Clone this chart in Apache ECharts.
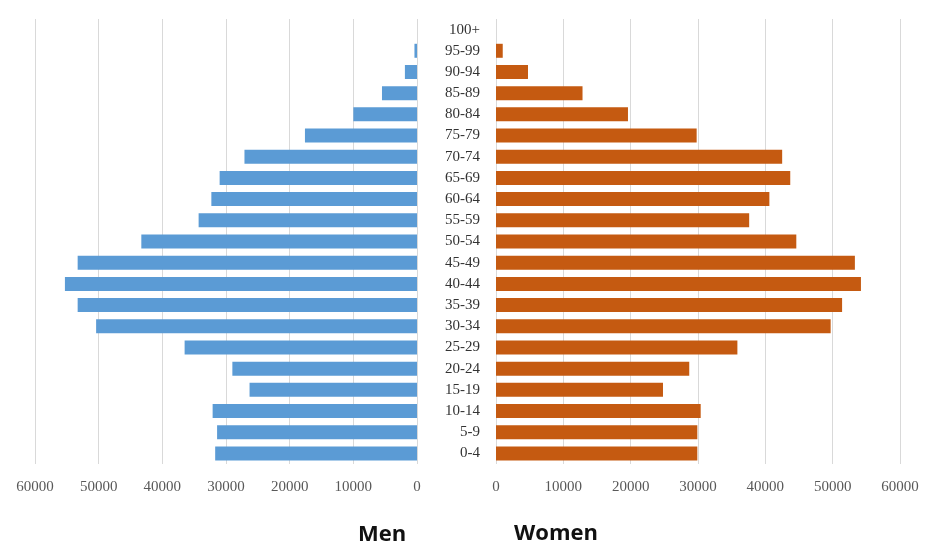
<!DOCTYPE html>
<html>
<head>
<meta charset="utf-8">
<script src="https://cdn.jsdelivr.net/npm/echarts@6/dist/echarts.min.js"></script>
<style>
  html, body { margin: 0; padding: 0; background: #fff; }
  #chart { width: 925px; height: 546px; }
</style>
</head>
<body>
<div id="chart"></div>
<script>
// Age groups, bottom to top
var ageGroups = ['0-4', '5-9', '10-14', '15-19', '20-24', '25-29', '30-34', '35-39', '40-44', '45-49',
  '50-54', '55-59', '60-64', '65-69', '70-74', '75-79', '80-84', '85-89', '90-94', '95-99', '100+'];

// Population by age group
var men = [31700, 31400, 32100, 26300, 29000, 36500, 50400, 53300, 55300, 53300,
  43300, 34300, 32300, 31000, 27100, 17600, 10000, 5500, 1900, 400, 0];
var women = [29900, 29900, 30400, 24800, 28700, 35850, 49700, 51400, 54200, 53300,
  44600, 37600, 40600, 43700, 42500, 29800, 19600, 12850, 4750, 1000, 0];

var axisMax = 60000;
var axisStep = 10000;

var chart = echarts.init(document.getElementById('chart'));

var serifFont = '"Liberation Serif", "DejaVu Serif", serif';

function valueAxis(gridIndex, inverse) {
  return {
    type: 'value',
    gridIndex: gridIndex,
    min: 0,
    max: axisMax,
    interval: axisStep,
    inverse: inverse,
    axisLine: { show: false },
    axisTick: { show: false },
    splitLine: { show: true, lineStyle: { color: '#d9d9d9', width: 1 } },
    axisLabel: {
      margin: 16,
      color: '#595959',
      fontFamily: serifFont,
      fontSize: 15,
      formatter: function (v) { return String(v); }
    }
  };
}

chart.setOption({
  animation: false,
  backgroundColor: '#ffffff',
  grid: [
    { left: 35, right: 508, top: 19, bottom: 82 },
    { left: 496, right: 25, top: 19, bottom: 82 }
  ],
  xAxis: [valueAxis(0, true), valueAxis(1, false)],
  yAxis: [
    {
      type: 'category',
      gridIndex: 0,
      data: ageGroups,
      position: 'right',
      axisLine: { show: false },
      axisTick: { show: false },
      axisLabel: { show: false }
    },
    {
      type: 'category',
      gridIndex: 1,
      data: ageGroups,
      axisLine: { show: false },
      axisTick: { show: false },
      axisLabel: {
        margin: 16,
        color: '#333333',
        fontFamily: serifFont,
        fontSize: 15
      }
    }
  ],
  series: [
    {
      name: 'Men',
      type: 'bar',
      xAxisIndex: 0,
      yAxisIndex: 0,
      data: men,
      barWidth: 14,
      itemStyle: { color: '#5b9bd5' }
    },
    {
      name: 'Women',
      type: 'bar',
      xAxisIndex: 1,
      yAxisIndex: 1,
      data: women,
      barWidth: 14,
      itemStyle: { color: '#c55a11' }
    }
  ],
  graphic: [
    {
      type: 'text',
      x: 382,
      y: 535,
      style: {
        text: 'Men',
        fill: '#111',
        font: 'bold 22px "Open Sans", sans-serif',
        textAlign: 'center',
        textVerticalAlign: 'middle'
      }
    },
    {
      type: 'text',
      x: 556,
      y: 534,
      style: {
        text: 'Women',
        fill: '#111',
        font: 'bold 22px "Open Sans", sans-serif',
        textAlign: 'center',
        textVerticalAlign: 'middle'
      }
    }
  ]
});
</script>
</body>
</html>
